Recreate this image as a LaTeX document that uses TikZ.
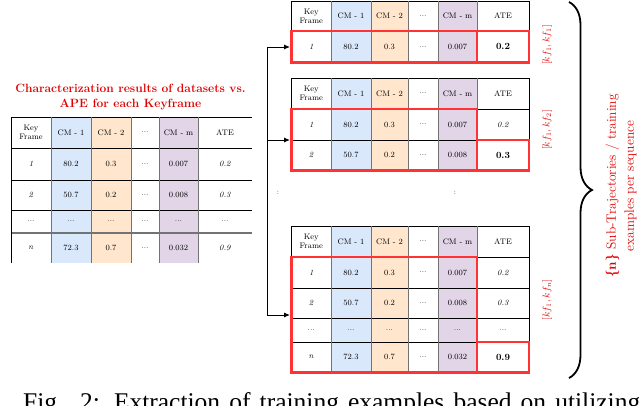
\documentclass[tikz,border=0pt]{standalone}
\usepackage{fontspec}
\newfontfamily\capfont{Liberation Serif}
\usetikzlibrary{decorations.pathreplacing,arrows.meta}
\definecolor{cmblue}{HTML}{DAE8FC}
\definecolor{cmorange}{HTML}{FFE6CC}
\definecolor{cmpurple}{HTML}{E1D5E7}
\definecolor{hired}{HTML}{FF3333}
\definecolor{labred}{HTML}{E00000}
\newcommand\setcols[7]{\def\colA{#1}\def\colB{#2}\def\colC{#3}\def\colD{#4}\def\colE{#5}\def\colF{#6}\def\colG{#7}}
\newcommand\trow[9]{%
  \node[cell] (#1-1) at ({(\colA+\colB)/2},{(#2+#3)/2}) {#4};
  \node[cell] (#1-2) at ({(\colB+\colC)/2},{(#2+#3)/2}) {#5};
  \node[cell] (#1-3) at ({(\colC+\colD)/2},{(#2+#3)/2}) {#6};
  \node[cell] (#1-4) at ({(\colD+\colE)/2},{(#2+#3)/2}) {#7};
  \node[cell] (#1-5) at ({(\colE+\colF)/2},{(#2+#3)/2}) {#8};
  \node[cell] (#1-6) at ({(\colF+\colG)/2},{(#2+#3)/2}) {#9};
}
\newcommand\tfills[2]{%
  \fill[cmblue] (\colB,#1) rectangle (\colC,#2);
  \fill[cmorange] (\colC,#1) rectangle (\colD,#2);
  \fill[cmpurple] (\colE,#1) rectangle (\colF,#2);
}
\newcommand\tframe[3]{%
  \tfills{#1}{#2}
  \foreach \yy in {#3} \draw[grid] (\colA,\yy) -- (\colG,\yy);
  \foreach \xx in {\colB,\colC,\colD,\colE,\colF} \draw[gridg] (\xx,#1) -- (\xx,#2);
  \draw[grid] (\colA,#1) -- (\colA,#2) (\colG,#1) -- (\colG,#2);
}
\newcommand\bv[1]{{\fontsize{9.5}{10}\selectfont\bfseries #1}}
\begin{document}
\begin{tikzpicture}[x=1pt,y=-1pt,
  cell/.style={font=\fontsize{8}{9}\selectfont, align=center, inner sep=0pt},
  grid/.style={line width=0.7pt, black},
  gridg/.style={line width=0.7pt, black!55},
  redbox/.style={line width=2.6pt, hired},
  conn/.style={line width=0.9pt, black},
  arr/.style={conn, -{Latex[length=6pt,width=5pt]}},
  lbl/.style={text=labred, inner sep=0pt}]
\useasboundingbox (0,0) rectangle (640,405);
\clip (0,0) rectangle (640,405);

% ---------- left table ----------
\node[font=\fontsize{12}{15}\selectfont\bfseries, text=labred, align=center, inner sep=0pt] (title) at (130.5,97) {Characterization results of datasets vs.\\APE for each Keyframe};
\setcols{11}{51}{91}{131}{159}{198}{252}
\tfills{117}{263}
\foreach \yy in {117,148,180,210} \draw[grid] (\colA,\yy) -- (\colG,\yy);
\draw[line width=1.4pt, black!55] (\colA,233) -- (\colG,233);
\foreach \xx in {\colB,\colC,\colD,\colE,\colF} \draw[gridg] (\xx,117) -- (\xx,263);
\draw[grid] (\colA,117) -- (\colA,263);
\trow{L0}{117}{148}{Key\\Frame}{CM - 1}{CM - 2}{...}{CM - m}{ATE}
\trow{L1}{148}{180}{\textit{1}}{80.2}{0.3}{...}{0.007}{\textit{0.2}}
\trow{L2}{180}{210}{\textit{2}}{50.7}{0.2}{...}{0.008}{\textit{0.3}}
\trow{L3}{210}{233}{...}{...}{...}{...}{...}{...}
\trow{L4}{233}{263}{\textit{n}}{72.3}{0.7}{...}{0.032}{\textit{0.9}}

% ---------- right tables ----------
\setcols{291.5}{331}{371}{408}{438}{477}{529}
% table 1
\tframe{1}{62.5}{1,31,62.5}
\trow{A0}{1}{31}{Key\\Frame}{CM - 1}{CM - 2}{...}{CM - m}{ATE}
\trow{A1}{31}{62.5}{\textit{1}}{80.2}{0.3}{...}{0.007}{\bv{0.2}}
\draw[redbox] (291.5,31) rectangle (477,62.5);
\draw[redbox] (477,31) rectangle (529,62.5);
% table 2
\tframe{78}{170}{78,109,140,170}
\trow{B0}{78}{109}{Key\\Frame}{CM - 1}{CM - 2}{...}{CM - m}{ATE}
\trow{B1}{109}{140}{\textit{1}}{80.2}{0.3}{...}{0.007}{\textit{0.2}}
\trow{B2}{140}{170}{\textit{2}}{50.7}{0.2}{...}{0.008}{\bv{0.3}}
\draw[redbox] (291.5,109) rectangle (477,170.5);
\draw[redbox] (477,140) rectangle (529,170.5);
% table 3
\tframe{226}{372}{226,257,288,318,342,372}
\trow{C0}{226}{257}{Key\\Frame}{CM - 1}{CM - 2}{...}{CM - m}{ATE}
\trow{C1}{257}{288}{\textit{1}}{80.2}{0.3}{...}{0.007}{\textit{0.2}}
\trow{C2}{288}{318}{\textit{2}}{50.7}{0.2}{...}{0.008}{\textit{0.3}}
\trow{C3}{318}{342}{...}{...}{...}{...}{...}{...}
\trow{C4}{342}{372}{\textit{n}}{72.3}{0.7}{...}{0.032}{\bv{0.9}}
\draw[redbox] (291.5,257) rectangle (477,372.5);
\draw[redbox] (477,342) rectangle (529,372.5);

% ---------- connectors ----------
\coordinate (j1) at (267,47);
\coordinate (j2) at (267,140);
\coordinate (j3) at (267,315);
\coordinate (e1) at (290,47);
\coordinate (e2) at (290,140);
\coordinate (e3) at (290,315);
\draw[conn] (j1) -- (j3);
\draw[arr] (j1) -- (e1);
\draw[arr] (j2) -- (e2);
\draw[arr] (j3) -- (e3);
\node[cell, font=\fontsize{7.5}{8}\selectfont] (vd1) at (278,193) {:};
\node[cell, font=\fontsize{7.5}{8}\selectfont] (vd2) at (455,193) {:};

% ---------- labels ----------
\node[lbl, rotate=90, font=\fontsize{10}{11}\selectfont] (kf1) at (547,45) {$[kf_1,kf_1]$};
\node[lbl, rotate=90, font=\fontsize{10}{11}\selectfont] (kf2) at (547,130) {$[kf_1,kf_2]$};
\node[lbl, rotate=90, font=\fontsize{10}{11}\selectfont] (kf3) at (547,300) {$[kf_1,kf_n]$};
\coordinate (btop) at (569,2);
\coordinate (bbot) at (569,378);
\draw[decorate, decoration={brace, amplitude=23pt}, line width=1.8pt] (btop) -- (bbot);
\node[lbl, rotate=90, align=center, font=\fontsize{13.5}{18}\selectfont] (sub) at (621,186) {\textbf{\{n\}} Sub-Trajectories / training\\examples per sequence};

% ---------- caption ----------
\node[anchor=base west, inner sep=0pt, font=\capfont\fontsize{25.5}{26}\selectfont] (cap) at (23,410) {\makebox[617pt][s]{Fig. 2: Extraction of training examples based on utilizing}};
\end{tikzpicture}
\end{document}
